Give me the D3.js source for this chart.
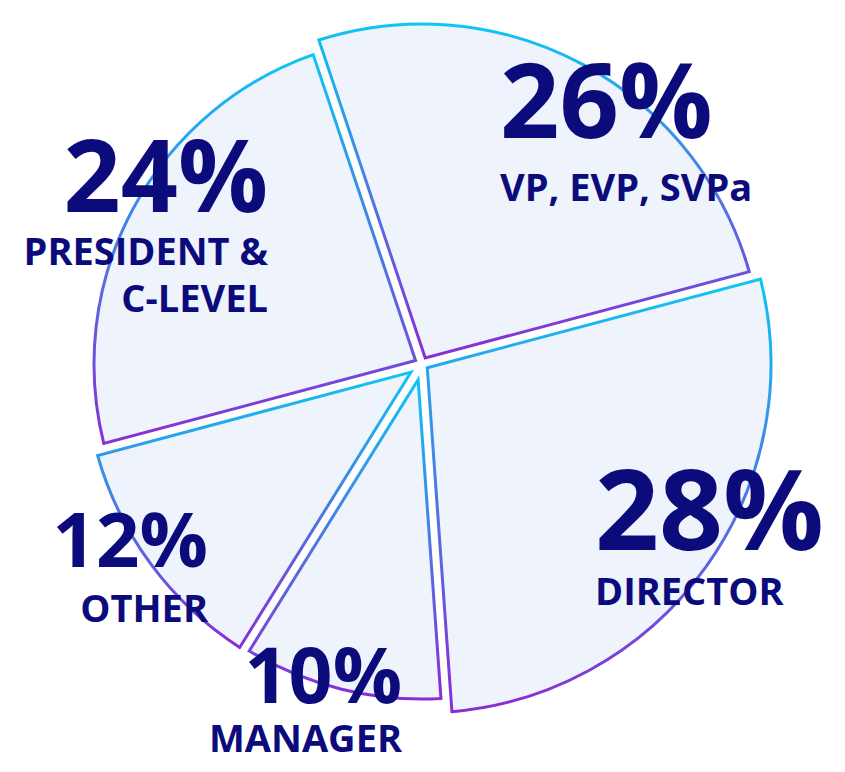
<!DOCTYPE html>
<html><head><meta charset="utf-8">
<script src="https://cdn.jsdelivr.net/npm/d3@7"></script>
<style>html,body{margin:0;padding:0;background:#fff;} svg{display:block}</style>
</head><body>
<svg id="chart" width="845" height="772"></svg>
<script>
// ---- data ----
const categories = ["VP, EVP, SVPa", "DIRECTOR", "MANAGER", "OTHER", "PRESIDENT & C-LEVEL"];
const values = [26, 28, 10, 12, 24];
const labelLines = [["VP, EVP, SVPa"], ["DIRECTOR"], ["MANAGER"], ["OTHER"], ["PRESIDENT &", "C-LEVEL"]];

// ---- layout / style ----
const W = 845, H = 772;
const center = [422, 364];
const radii = [340, 349, 335, 337, 328];
const gapWidth = 10;
const startDeg = -18.5;
const labelLayout = [
  {x: 500, y: 138, anchor: "start", size: 104, subSize: 38, subY: [201]},
  {x: 595, y: 550, anchor: "start", size: 112, subSize: 38, subY: [605]},
  {x: 402, y: 703, anchor: "end",   size: 77,  subSize: 38, subY: [752]},
  {x: 208, y: 567, anchor: "end",   size: 76,  subSize: 38, subY: [622]},
  {x: 268, y: 212, anchor: "end",   size: 100, subSize: 38, subY: [265, 312]}
];
const cyan = "#0cc6f3", purple = "#8a2dd4";
const fillColor = "#eef3fc";
const textColor = "#0b0b7b";

const svg = d3.select("#chart");
const defs = svg.append("defs");

const pie = d3.pie().sort(null).value(d => d)
  .startAngle(startDeg * Math.PI / 180)
  .endAngle(startDeg * Math.PI / 180 + 2 * Math.PI);
const arcs = pie(values);

function slicePath(a, R) {
  const h = gapWidth / 2;
  const a0 = a.startAngle, a1 = a.endAngle;
  const half = (a1 - a0) / 2, mid = (a0 + a1) / 2;
  const d = h / Math.sin(half);
  const apex = [d * Math.sin(mid), -d * Math.cos(mid)];
  const da = Math.asin(h / R);
  const s = a0 + da, e = a1 - da;
  const p = d3.path();
  p.moveTo(apex[0], apex[1]);
  p.lineTo(R * Math.sin(s), -R * Math.cos(s));
  p.arc(0, 0, R, s - Math.PI / 2, e - Math.PI / 2, false);
  p.closePath();
  return p.toString();
}

arcs.forEach((a, i) => {
  const g = defs.append("linearGradient").attr("id", "grad" + i)
    .attr("x1", 0).attr("y1", 0).attr("x2", 0).attr("y2", 1);
  g.append("stop").attr("offset", 0).attr("stop-color", cyan);
  g.append("stop").attr("offset", 1).attr("stop-color", purple);
});

const gPie = svg.append("g").attr("transform", `translate(${center[0]},${center[1]})`);
gPie.selectAll("path").data(arcs).join("path")
  .attr("d", (a, i) => slicePath(a, radii[i]))
  .attr("fill", fillColor)
  .attr("stroke", (a, i) => `url(#grad${i})`)
  .attr("stroke-width", 3)
  .attr("stroke-linejoin", "miter");

const gLab = svg.append("g").attr("font-family", "'Open Sans', sans-serif").attr("fill", textColor);
arcs.forEach((a, i) => {
  const L = labelLayout[i];
  gLab.append("text").attr("x", L.x).attr("y", L.y)
    .attr("text-anchor", L.anchor).attr("font-size", L.size).attr("font-weight", 700)
    .text(values[i] + "%");
  labelLines[i].forEach((line, k) => {
    gLab.append("text").attr("x", L.x).attr("y", L.subY[k])
      .attr("text-anchor", L.anchor).attr("font-size", L.subSize).attr("font-weight", 700)
      .text(line);
  });
});
</script>
</body></html>
